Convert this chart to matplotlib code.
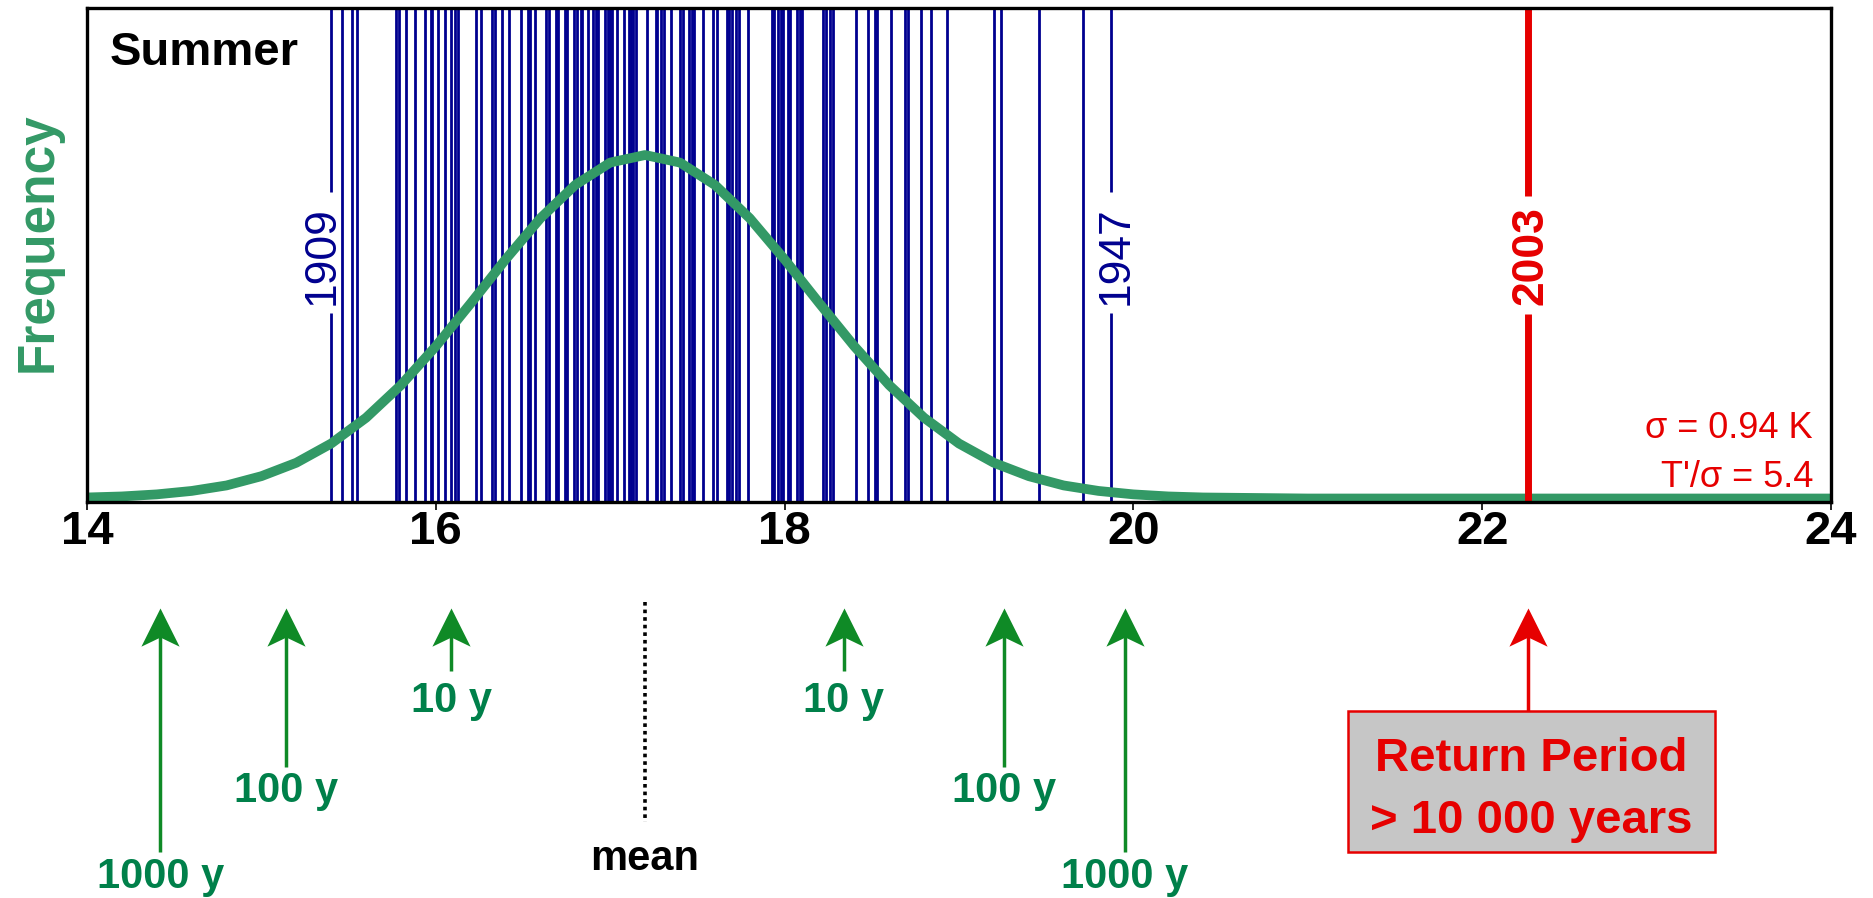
import matplotlib
matplotlib.use('Agg')
import matplotlib.pyplot as plt
from matplotlib.path import Path
from matplotlib.patches import Rectangle
from matplotlib.transforms import blended_transform_factory

plt.rcParams['font.family'] = ['Liberation Sans', 'DejaVu Sans']

# ==== Data ====
# summer mean temperatures (deg C), one line per year
summer_temps = [15.40, 15.46, 15.52, 15.55, 15.77, 15.79, 15.83, 15.88, 15.94, 15.97,
                15.98, 16.01, 16.05, 16.09, 16.11, 16.13, 16.23, 16.26, 16.32, 16.34,
                16.38, 16.42, 16.49, 16.53, 16.54, 16.57, 16.63, 16.65, 16.69, 16.70,
                16.74, 16.75, 16.79, 16.81, 16.83, 16.84, 16.87, 16.90, 16.92, 16.93,
                16.97, 16.99, 17.00, 17.01, 17.04, 17.08, 17.11, 17.12, 17.13, 17.15,
                17.21, 17.26, 17.27, 17.29, 17.31, 17.35, 17.40, 17.42, 17.45, 17.47,
                17.48, 17.53, 17.59, 17.61, 17.67, 17.68, 17.70, 17.72, 17.74, 17.79,
                17.93, 17.94, 17.96, 17.98, 17.99, 18.02, 18.03, 18.07, 18.09, 18.10,
                18.22, 18.24, 18.26, 18.28, 18.41, 18.48, 18.52, 18.53, 18.61, 18.69,
                18.71, 18.78, 18.84, 18.93, 19.20, 19.24, 19.46, 19.71, 19.87]
labelled_years = ['1909', '1947']
labelled_temps = [15.40, 19.87]
year_2003 = '2003'
temp_2003 = 22.26

# fitted frequency curve (relative to its peak)
curve_x = [14.0, 14.2, 14.4, 14.6, 14.8, 15.0, 15.2, 15.4, 15.6, 15.8, 16.0, 16.2,
           16.4, 16.6, 16.8, 17.0, 17.2, 17.4, 17.6, 17.8, 18.0, 18.2, 18.4, 18.6,
           18.8, 19.0, 19.2, 19.4, 19.6, 19.8, 20.0, 20.2, 20.4, 21.0, 24.0]
curve_freq = [0.003, 0.006, 0.012, 0.022, 0.038, 0.065, 0.104, 0.160, 0.235, 0.330,
              0.443, 0.568, 0.696, 0.816, 0.913, 0.978, 1.000, 0.978, 0.913, 0.816,
              0.696, 0.568, 0.443, 0.330, 0.235, 0.160, 0.104, 0.065, 0.038, 0.022,
              0.012, 0.006, 0.003, 0.0, 0.0]

xticks = [14, 16, 18, 20, 22, 24]

return_labels = ['1000 y', '100 y', '10 y', '10 y', '100 y', '1000 y']
return_temps = [14.42, 15.14, 16.09, 18.34, 19.26, 19.95]
mean_temp = 17.20

sigma_lines = ['σ = 0.94 K', "T'/σ = 5.4"]
box_lines = ['Return Period', '> 10 000 years']

# ==== Style ====
W, H = 1874, 898
BLUE = '#00008f'
GREEN = '#339966'
ARROW_GREEN = '#0f8a26'
TEXT_GREEN = '#00804a'
RED = '#e60000'


def fy(px):
    return 1 - px / H


fig = plt.figure(figsize=(W / 100, H / 100), dpi=100)
ax = fig.add_axes([87 / W, fy(502), 1744 / W, 494 / H])
ax.set_xlim(14, 24)
ax.set_ylim(-0.0102, 1.428)
xt = ax.get_xaxis_transform()

# year lines
LW_YEAR = 2.0
gap_lo, gap_hi = 0.383, 0.628
plain = [t for t in summer_temps if t not in labelled_temps]
ax.vlines(plain, 0, 1, transform=xt, colors=BLUE, lw=LW_YEAR, zorder=2)
offsets = [-0.05, 0.03]
for yr, t, off in zip(labelled_years, labelled_temps, offsets):
    ax.vlines([t], 0, gap_lo, transform=xt, colors=BLUE, lw=LW_YEAR, zorder=2)
    ax.vlines([t], gap_hi, 1, transform=xt, colors=BLUE, lw=LW_YEAR, zorder=2)
    ax.text(t + off, 0.498, yr, transform=xt, rotation=90, ha='center', va='center',
            fontsize=32, color=BLUE)

ax.plot(curve_x, curve_freq, color=GREEN, lw=7, zorder=3, solid_capstyle='butt')

ax.vlines([temp_2003], 0, 0.38, transform=xt, colors=RED, lw=5, zorder=4)
ax.vlines([temp_2003], 0.62, 1, transform=xt, colors=RED, lw=5, zorder=4)
ax.text(temp_2003 + 0.02, 0.498, year_2003, transform=xt, rotation=90, ha='center',
        va='center', fontsize=32, fontweight='bold', color=RED)

for s in ax.spines.values():
    s.set_linewidth(2.4)
    s.set_zorder(5)
ax.set_yticks([])
ax.set_xticks(xticks)
ax.tick_params(axis='x', direction='out', length=6, width=1.2, pad=0, labelsize=34)
for lab in ax.get_xticklabels():
    lab.set_fontweight('bold')

fig.text(110 / W, fy(65), 'Summer', fontsize=34, fontweight='bold', va='baseline')
fig.text(38 / W, fy(242), 'Frequency', rotation=90, ha='center', va='center',
         fontsize=37, fontweight='bold', color=GREEN)
for txt, base in zip(sigma_lines, [438, 487]):
    fig.text(1813 / W, fy(base), txt, ha='right', va='baseline', fontsize=26, color=RED)

# ==== Return period arrows below the axis ====
bt = blended_transform_factory(ax.transData, fig.transFigure)
head = Path([(0, 0), (0.5, -1), (0, -0.76), (-0.5, -1), (0, 0)],
            [Path.MOVETO, Path.LINETO, Path.LINETO, Path.LINETO, Path.CLOSEPOLY])
TIP = 608


def up_arrow(x, tail, color):
    ax.plot([x, x], [fy(tail), fy(TIP + 25)], transform=bt, color=color, lw=2.5,
            clip_on=False, solid_capstyle='butt')
    ax.plot([x], [fy(TIP)], transform=bt, marker=head, ms=55, mew=0, color=color,
            linestyle='none', clip_on=False)


tails = {'1000 y': 852, '100 y': 767, '10 y': 671}
bases = {'1000 y': 888, '100 y': 802, '10 y': 712}
for lab, t in zip(return_labels, return_temps):
    up_arrow(t, tails[lab], ARROW_GREEN)
    ax.text(t, fy(bases[lab]), lab, transform=bt, ha='center', va='baseline',
            fontsize=30, fontweight='bold', color=TEXT_GREEN)

ax.plot([mean_temp, mean_temp], [fy(602), fy(822)], transform=bt, color='black',
        lw=2.6, linestyle=(0, (1.0, 1.1)), clip_on=False)
ax.text(mean_temp, fy(870), 'mean', transform=bt, ha='center', va='baseline',
        fontsize=30, fontweight='bold', color='black')

up_arrow(temp_2003, 711, RED)
fig.add_artist(Rectangle((1348 / W, fy(852)), 367 / W, 141 / H, transform=fig.transFigure,
                         facecolor='#c6c6c6', edgecolor=RED, lw=1.8))
for txt, base in zip(box_lines, [771, 833]):
    fig.text(1531 / W, fy(base), txt, ha='center', va='baseline', fontsize=34,
             fontweight='bold', color=RED)

fig.savefig('out.png', dpi=100)
